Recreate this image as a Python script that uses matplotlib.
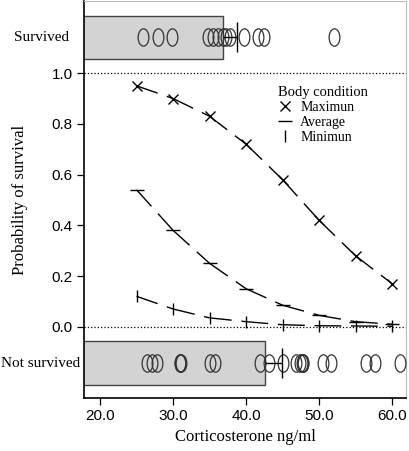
import matplotlib
matplotlib.use("Agg")
import matplotlib.pyplot as plt
from matplotlib.lines import Line2D
from matplotlib.path import Path
from matplotlib.transforms import Affine2D, blended_transform_factory

# corticosterone levels where the model was evaluated
cort = [25, 30, 35, 40, 45, 50, 55, 60]
p_max = [0.95, 0.90, 0.83, 0.72, 0.58, 0.42, 0.28, 0.17]
p_avg = [0.54, 0.38, 0.25, 0.15, 0.085, 0.045, 0.02, 0.01]
p_min = [0.12, 0.07, 0.035, 0.02, 0.008, 0.004, 0.003, 0.002]

# raw observations
survived = [25.9, 28.0, 29.8, 34.8, 35.5, 36.2, 36.8, 37.3, 37.8, 39.7,
            41.7, 42.4, 52.0]
not_survived = [26.4, 27.1, 27.8, 31.0, 31.0, 31.1, 35.1, 35.8, 41.9, 43.1,
                45.1, 46.9, 47.4, 47.6, 47.8, 47.8, 50.6, 51.7, 56.5, 57.7, 61.1]

groups = ["Survived", "Not survived"]
group_y = [1.141, -0.143]
bar_len = [36.8, 42.6]
mark_x = [38.8, 44.9]
mark_lo = [2.0, 2.3]

serif = "Liberation Serif"
sans = "Liberation Sans"

fig = plt.figure(figsize=(4.1, 4.51), dpi=100)
ax = fig.add_axes([0.205, 0.1175, 0.785, 0.8805])

# grey bars and raw data strips
for y, length, mx, lo, obs in zip(group_y, bar_len, mark_x, mark_lo,
                                  [survived, not_survived]):
    ax.barh(y, length, left=0, height=0.17, color="#d3d3d3",
            edgecolor="#444444", linewidth=1.0, zorder=1)
    ellipse = Path.unit_circle().transformed(Affine2D().scale(0.62, 1.0))
    ax.plot(obs, [y] * len(obs), linestyle="none", marker=ellipse,
            markersize=12.5, markerfacecolor="none", markeredgecolor="#333333",
            markeredgewidth=0.9, zorder=3)
    ax.errorbar(mx, y, xerr=[[lo], [0]], fmt="none", ecolor="black",
                elinewidth=1.0, zorder=4)
    ax.plot(mx, y, marker="|", markersize=22, color="black",
            markeredgewidth=1.0, zorder=4)

# fitted curves: dashed segments between markers
for vals, mk, ms in [(p_max, "x", 7), (p_avg, "_", 10), (p_min, "|", 9)]:
    for i in range(len(cort) - 1):
        ax.plot(cort[i:i + 2], vals[i:i + 2], color="black", linewidth=1.0,
                dashes=(16, 7), zorder=2)
    ax.plot(cort, vals, linestyle="none", marker=mk, markersize=ms,
            color="black", markeredgewidth=1.0, zorder=3)

ax.axhline(1.0, color="black", linestyle=":", linewidth=0.9)
ax.axhline(0.0, color="black", linestyle=":", linewidth=0.9)

ax.set_xlim(17.8, 61.9)
ax.set_ylim(-0.281, 1.285)
ax.set_xticks([20, 30, 40, 50, 60])
ax.set_xticklabels(["20.0", "30.0", "40.0", "50.0", "60.0"], family=sans,
                   fontsize=11)
ax.set_yticks([0.0, 0.2, 0.4, 0.6, 0.8, 1.0])
ax.set_yticklabels(["0.0", "0.2", "0.4", "0.6", "0.8", "1.0"], family=sans,
                   fontsize=11)
ax.tick_params(direction="out", length=5, width=0.9, pad=3)

for side in ["top", "right"]:
    ax.spines[side].set_color("#bbbbbb")
ax.spines["left"].set_linewidth(1.2)
ax.spines["bottom"].set_linewidth(1.2)

trans = blended_transform_factory(ax.transAxes, ax.transData)
ax.text(-0.047, group_y[0], groups[0], transform=trans, ha="right",
        va="center", family=serif, fontsize=11)
ax.text(-0.012, group_y[1], groups[1], transform=trans, ha="right",
        va="center", family=serif, fontsize=11)

ax.set_xlabel("Corticosterone ng/ml", family=serif, fontsize=12, labelpad=4)
ax.set_ylabel("Probability of survival", family=serif, fontsize=12)
ax.yaxis.set_label_coords(-0.175, 0.5, transform=ax.transAxes)

handles = [
    Line2D([], [], linestyle="none", marker="x", markersize=7, color="black"),
    Line2D([], [], linestyle="none", marker="_", markersize=10, color="black"),
    Line2D([], [], linestyle="none", marker="|", markersize=9, color="black"),
]
leg = ax.legend(handles, ["Maximun", "Average", "Minimun"],
                title="Body condition", loc="upper left",
                bbox_to_anchor=(0.585, 0.8), frameon=False,
                prop={"family": serif, "size": 10}, handlelength=1.0,
                handletextpad=0.6, labelspacing=0.15, borderaxespad=0)
leg.get_title().set_fontfamily(serif)
leg.get_title().set_fontsize(10.5)
leg._legend_box.align = "left"

fig.savefig("out.png", dpi=100)
